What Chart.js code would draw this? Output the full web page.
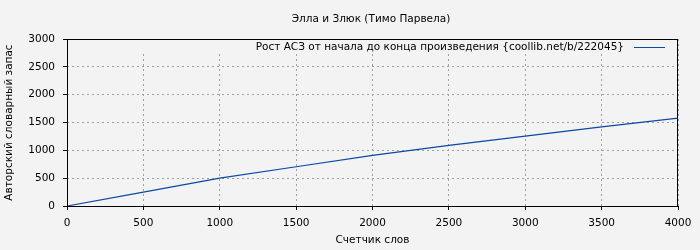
<!DOCTYPE html>
<html><head><meta charset="utf-8">
<script src="https://cdn.jsdelivr.net/npm/chart.js@4/dist/chart.umd.min.js"></script>
<style>html,body{margin:0;padding:0;background:#f3f3f3;}#c{display:block;}</style>
</head><body>
<canvas id="c" width="700" height="250"></canvas>
<script>
const chartTitle = "Элла и Злюк (Тимо Парвела)";
const seriesLabel = "Рост АСЗ от начала до конца произведения {coollib.net/b/222045}";
const xAxisTitle = "Счетчик слов";
const yAxisTitle = "Авторский словарный запас";
const wordCounts = [0, 500, 1000, 1500, 2000, 2500, 3000, 3500, 4000];
const vocabulary = [0, 250, 500, 705, 910, 1090, 1255, 1420, 1580];
const xTicks = [0, 500, 1000, 1500, 2000, 2500, 3000, 3500, 4000];
const yTicks = [0, 500, 1000, 1500, 2000, 2500, 3000];

const FONT = "'DejaVu Sans', sans-serif";
const FS = 10.5;
const LINE = '#0a48a8';

const decor = {
  id: 'decor',
  afterDraw(chart) {
    const ctx = chart.ctx, a = chart.chartArea;
    ctx.save();
    ctx.fillStyle = '#f3f3f3';
    ctx.fillRect(a.left + 1, a.top + 1, a.right - a.left - 2, 13);
    ctx.strokeStyle = '#000'; ctx.lineWidth = 1;
    ctx.strokeRect(Math.round(a.left) + 0.5, Math.round(a.top) + 0.5, Math.round(a.right - a.left) - 1, Math.round(a.bottom - a.top));
    ctx.fillStyle = '#000';
    ctx.font = FS + 'px ' + FONT;
    ctx.textBaseline = 'middle';
    ctx.textAlign = 'center';
    ctx.fillText(chartTitle, 371, 19);
    ctx.fillText(xAxisTitle, (a.left + a.right) / 2, 240);
    ctx.save();
    ctx.translate(9, (a.top + a.bottom) / 2);
    ctx.rotate(-Math.PI / 2);
    ctx.fillText(yAxisTitle, 0, 0);
    ctx.restore();
    ctx.textAlign = 'right';
    const lx2 = a.right - 13, lx1 = lx2 - 31, ly = a.top + 8.5;
    ctx.fillText(seriesLabel, lx1 - 10, ly);
    ctx.strokeStyle = LINE;
    ctx.beginPath(); ctx.moveTo(lx1, ly); ctx.lineTo(lx2, ly); ctx.stroke();
    ctx.restore();
  }
};

new Chart(document.getElementById('c'), {
  type: 'line',
  data: {
    datasets: [{
      label: seriesLabel,
      data: wordCounts.map((x, i) => ({x, y: vocabulary[i]})),
      borderColor: LINE, borderWidth: 1.2, pointRadius: 0, tension: 0, fill: false
    }]
  },
  options: {
    responsive: false, animation: false,
    layout: { padding: { left: 0, top: 39, right: 22, bottom: 0 } },
    plugins: { legend: { display: false }, title: { display: false }, tooltip: { enabled: false } },
    scales: {
      x: {
        type: 'linear', min: 0, max: 4000,
        afterBuildTicks: s => { s.ticks = xTicks.map(v => ({value: v})); },
        afterFit: s => { s.height = 44; },
        ticks: { color: '#000', font: { family: FONT, size: FS }, padding: 7, maxRotation: 0, autoSkip: false, callback: v => String(v) },
        grid: { color: '#a0a0a0', tickColor: '#000', tickLength: 4, tickBorderDash: [] },
        border: { display: false, dash: [2, 3] }
      },
      y: {
        type: 'linear', min: 0, max: 3000,
        afterBuildTicks: s => { s.ticks = yTicks.map(v => ({value: v})); },
        afterFit: s => { s.width = 67; },
        ticks: { color: '#000', font: { family: FONT, size: FS }, padding: 8, autoSkip: false, callback: v => String(v) },
        grid: { color: '#a0a0a0', tickColor: '#000', tickLength: 4, tickBorderDash: [] },
        border: { display: false, dash: [2, 3] }
      }
    }
  },
  plugins: [decor]
});
</script>
</body></html>
